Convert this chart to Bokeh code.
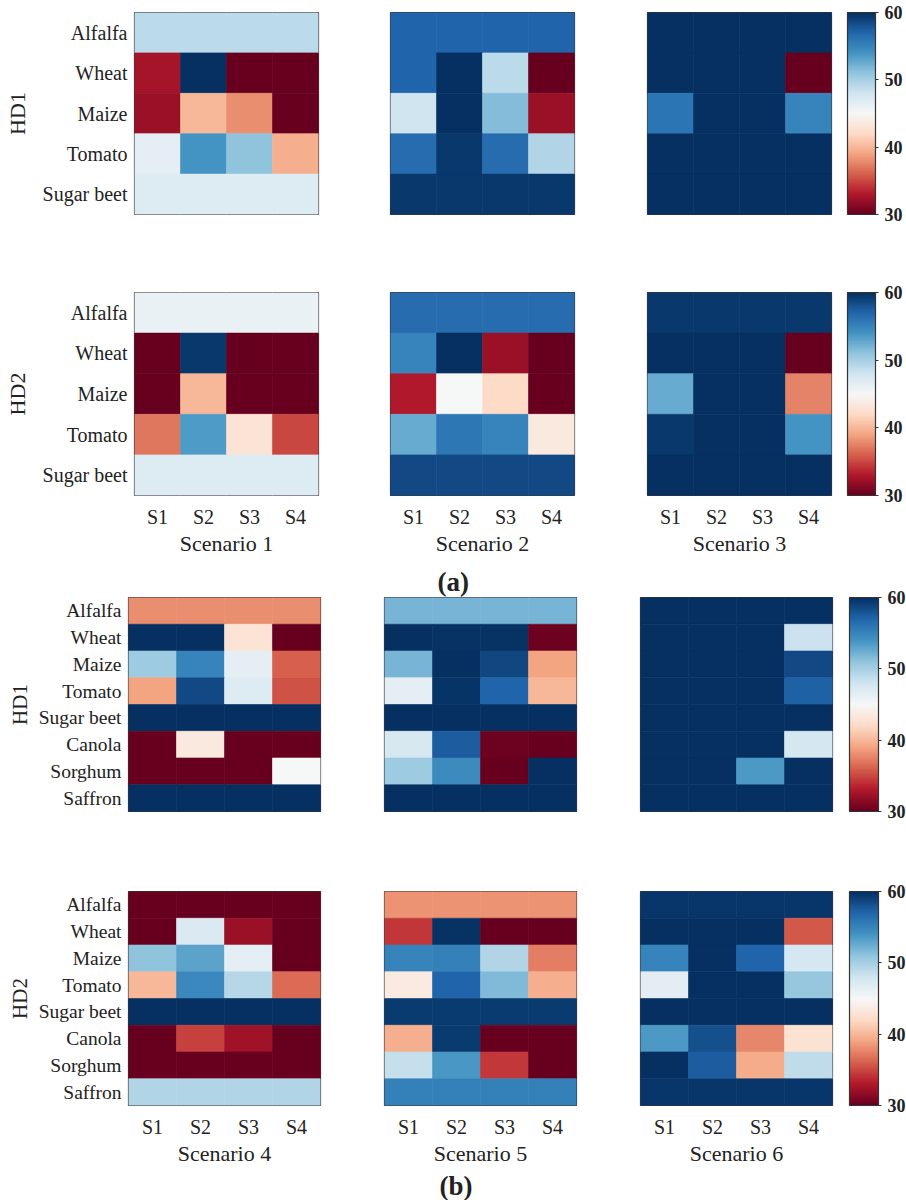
import numpy as np
from bokeh.plotting import figure
from bokeh.models import FactorRange, LinearColorMapper, ColorBar, FixedTicker, ColumnDataSource, Title
from bokeh.layouts import column, row
from bokeh.transform import transform
from bokeh.embed import file_html
from bokeh.resources import INLINE

# ---------------- data ----------------
strategies = ["S1", "S2", "S3", "S4"]
crops_a = ["Alfalfa", "Wheat", "Maize", "Tomato", "Sugar beet"]
crops_b = ["Alfalfa", "Wheat", "Maize", "Tomato", "Sugar beet", "Canola", "Sorghum", "Saffron"]
cbar_ticks = [30, 40, 50, 60]

# panel (a): rows = crops_a, columns = S1..S4
sc1_hd1 = [[49, 49, 49, 49],
           [32.5, 60, 30, 30],
           [32, 40, 38, 30],
           [46.5, 54, 51, 39.5],
           [47, 47, 47, 47]]
sc2_hd1 = [[57, 57, 57, 57],
           [57, 60, 49, 30],
           [48, 60, 51.5, 32],
           [56.5, 59.5, 56.5, 49.5],
           [59.5, 59.5, 59.5, 59.5]]
sc3_hd1 = [[60, 60, 60, 60],
           [60, 60, 60, 30],
           [56, 60, 60, 55],
           [60, 60, 60, 60],
           [60, 60, 60, 60]]
sc1_hd2 = [[46, 46, 46, 46],
           [30, 59.5, 30, 30],
           [30, 40, 30, 30],
           [37, 53.5, 43, 35],
           [47, 47, 47, 47]]
sc2_hd2 = [[56.5, 56.5, 56.5, 56.5],
           [55, 60, 32, 30],
           [33, 45, 42, 30],
           [52.5, 55.8, 55, 43.5],
           [58.5, 58.5, 58.5, 58.5]]
sc3_hd2 = [[59.5, 59.5, 59.5, 59.5],
           [60, 60, 60, 30],
           [52.5, 60, 60, 37.5],
           [59.5, 60, 60, 54],
           [60, 60, 60, 60]]

# panel (b): rows = crops_b, columns = S1..S4
sc4_hd1 = [[38, 38, 38, 38],
           [60, 60, 43, 30],
           [50.5, 55, 46.5, 36],
           [39, 58.5, 47, 35.5],
           [60, 60, 60, 60],
           [30, 43.5, 30, 30],
           [30, 30, 30, 45],
           [60, 60, 60, 60]]
sc5_hd1 = [[52, 52, 52, 52],
           [60, 59.8, 59.8, 30.3],
           [52, 60, 58.6, 39],
           [46.5, 59.7, 57, 40],
           [60, 60, 60, 60],
           [47.5, 57.5, 30.3, 30],
           [50.5, 54.5, 30, 60],
           [60, 60, 60, 60]]
sc6_hd1 = [[60, 60, 60, 60],
           [60, 60, 60, 48.2],
           [60, 60, 60, 58.5],
           [60, 60, 60, 57.2],
           [60, 60, 60, 60],
           [60, 60, 60, 47.6],
           [60, 60, 53.6, 60],
           [60, 60, 60, 60]]
sc4_hd2 = [[30, 30, 30, 30],
           [30, 47.2, 32, 30],
           [51, 53, 46.5, 30],
           [40, 54.7, 49.3, 36.5],
           [60, 60, 60, 60],
           [30, 34.8, 32.3, 30],
           [30, 30, 30, 30],
           [49.5, 49.5, 49.5, 49.5]]
sc5_hd2 = [[38.3, 38.3, 38.3, 38.3],
           [34.3, 59.8, 30, 30],
           [55, 55.3, 49.5, 37.3],
           [43.6, 57, 51.6, 39.5],
           [59.3, 59.3, 59.3, 59.3],
           [39.5, 59.3, 30, 30],
           [48.6, 53.7, 34.4, 30],
           [55.2, 55.2, 55.2, 55.2]]
sc6_hd2 = [[59.6, 59.6, 59.6, 59.6],
           [60, 60, 60, 35.7],
           [55, 60, 57, 47.6],
           [46.6, 60, 60, 50.8],
           [60, 60, 60, 60],
           [53.6, 58.2, 37.7, 42.7],
           [60, 57.5, 39.4, 48.8],
           [59.6, 59.6, 59.6, 59.6]]

# ---------------- colour map (RdBu, red = low) ----------------
stops = ['#67001f', '#b2182b', '#d6604d', '#f4a582', '#fddbc7', '#f7f7f7',
         '#d1e5f0', '#92c5de', '#4393c3', '#2166ac', '#053061']


def interp_palette(hexes, n):
    rgb = np.array([[int(h[i:i + 2], 16) for i in (1, 3, 5)] for h in hexes], float)
    xs = np.linspace(0, 1, len(hexes))
    t = np.linspace(0, 1, n)
    out = []
    for tt in t:
        c = [int(round(np.interp(tt, xs, rgb[:, k]))) for k in range(3)]
        out.append("#%02x%02x%02x" % tuple(c))
    return out


palette = interp_palette(stops, 256)
mapper = LinearColorMapper(palette=palette, low=30, high=60)

SERIF = "Liberation Serif"
TXT = "#222222"


def tag(text, off, standoff):
    return Title(text=text, align="left", offset=off, standoff=standoff,
                 text_font=SERIF, text_font_size="27px", text_font_style="bold",
                 text_color=TXT)


def heat(vals, crops, fw, fh, bl, br, bt, bb, ylab=None, xlab=None, cbar=None,
         ysize="20px", ylabsize="22px", ylabstand=10):
    xs, ys, vs = [], [], []
    for c, r in zip(crops, vals):
        for s, v in zip(strategies, r):
            xs.append(s)
            ys.append(c)
            vs.append(v)
    src = ColumnDataSource(dict(x=xs, y=ys, v=vs))
    p = figure(x_range=FactorRange(*strategies), y_range=FactorRange(*reversed(crops)),
               frame_width=fw, frame_height=fh,
               min_border_left=bl, min_border_right=br, min_border_top=bt, min_border_bottom=bb,
               toolbar_location=None, output_backend="svg")
    p.rect("x", "y", 1, 1, source=src, fill_color=transform("v", mapper),
           line_color=transform("v", mapper), line_width=0.6)
    p.grid.visible = False
    p.outline_line_color = "#3a3a3a"
    p.outline_line_width = 1.2
    p.background_fill_color = "white"
    for ax in p.axis:
        ax.axis_line_color = None
        ax.major_tick_line_color = None
        ax.minor_tick_line_color = None
        ax.major_tick_in = 0
        ax.major_tick_out = 0
        ax.minor_tick_in = 0
        ax.minor_tick_out = 0
        ax.major_label_text_font = SERIF
        ax.major_label_text_color = TXT
        ax.axis_label_text_font = SERIF
        ax.axis_label_text_font_style = "normal"
        ax.axis_label_text_color = TXT
    if ylab is None:
        p.yaxis.visible = False
    else:
        p.yaxis.axis_label = ylab
        p.yaxis.major_label_text_font_size = ysize
        p.yaxis.axis_label_text_font_size = ylabsize
        p.yaxis.major_label_standoff = 7
        p.yaxis.axis_label_standoff = ylabstand
    if xlab is None:
        p.xaxis.visible = False
    else:
        p.xaxis.axis_label = xlab
        p.xaxis.major_label_text_font_size = "20px"
        p.xaxis.axis_label_text_font_size = "22px"
        p.xaxis.major_label_standoff = 10
        p.xaxis.axis_label_standoff = 0
    if cbar is not None:
        off, w = cbar
        cb = ColorBar(color_mapper=mapper, ticker=FixedTicker(ticks=cbar_ticks),
                      width=w, height=fh, padding=0, margin=0, location=(off, 0),
                      major_label_text_font=SERIF, major_label_text_font_style="bold",
                      major_label_text_font_size="18px", major_label_text_color=TXT,
                      major_tick_line_color="#333333", major_tick_in=0, major_tick_out=3,
                      minor_tick_line_color=None, label_standoff=6,
                      bar_line_color="#333333", bar_line_width=1.2,
                      border_line_color=None, background_fill_color=None)
        p.add_layout(cb, "right")
    return p


# row a / HD1  (frames x: 134, 390, 647; width 184)
a11 = heat(sc1_hd1, crops_a, 184, 202, 134, 2, 12, 39, ylab="HD1")
a12 = heat(sc2_hd1, crops_a, 184, 202, 70, 2, 12, 39)
a13 = heat(sc3_hd1, crops_a, 184, 202, 71, 73, 12, 39, cbar=(16, 28))
# row a / HD2
a21 = heat(sc1_hd2, crops_a, 184, 203, 134, 2, 39, 64, ylab="HD2", xlab="Scenario 1")
a22 = heat(sc2_hd2, crops_a, 184, 203, 70, 2, 39, 64, xlab="Scenario 2")
a23 = heat(sc3_hd2, crops_a, 184, 203, 71, 73, 39, 64, xlab="Scenario 3", cbar=(16, 28))
# row b / HD1  (frames x: 128, 384, 640; width 192)
b11 = heat(sc4_hd1, crops_b, 192, 214, 128, 2, 38, 40, ylab="HD1", ysize="19.5px",
           ylabsize="21px", ylabstand=4)
b12 = heat(sc5_hd1, crops_b, 192, 214, 62, 2, 38, 40)
b12.add_layout(tag("(a)", 53, 2), "above")
b13 = heat(sc6_hd1, crops_b, 192, 214, 62, 72, 38, 40, cbar=(17, 29))
# row b / HD2
b21 = heat(sc4_hd2, crops_b, 192, 214, 128, 2, 40, 94, ylab="HD2", xlab="Scenario 4",
           ysize="19.5px", ylabsize="21px", ylabstand=4)
b22 = heat(sc5_hd2, crops_b, 192, 214, 62, 2, 40, 94, xlab="Scenario 5")
b22.add_layout(tag("(b)", 55, 0), "below")
b23 = heat(sc6_hd2, crops_b, 192, 214, 62, 72, 40, 94, xlab="Scenario 6", cbar=(17, 29))

layout = column(row(a11, a12, a13), row(a21, a22, a23),
                row(b11, b12, b13), row(b21, b22, b23))

open("out.html", "w").write(file_html(layout, INLINE))
